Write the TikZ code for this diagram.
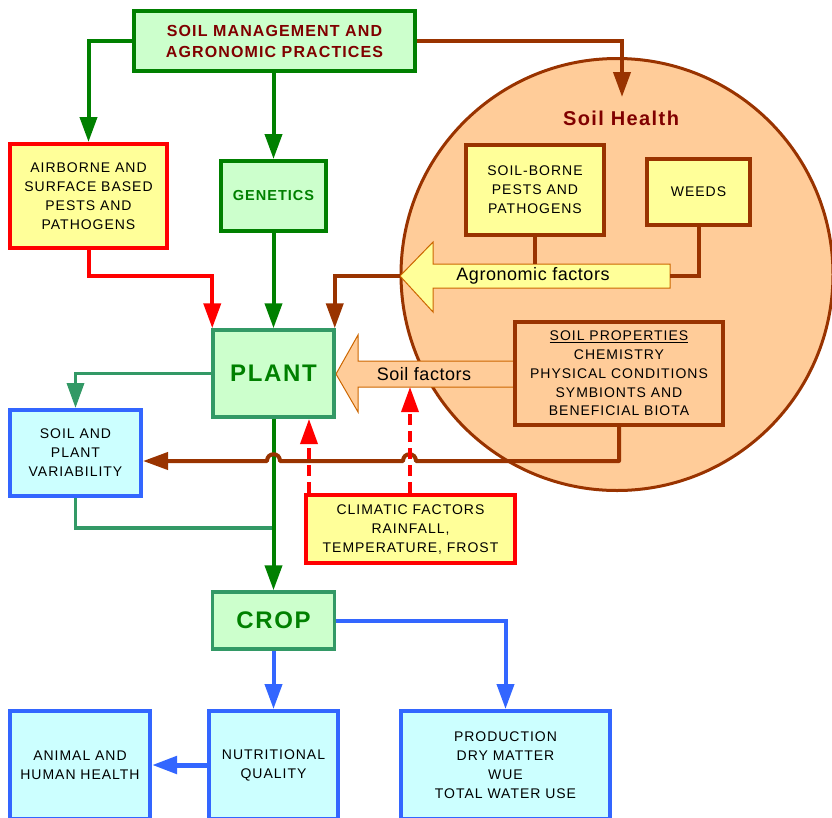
\documentclass[tikz,border=0pt]{standalone}
\usepackage{fontspec}
\setmainfont{Liberation Sans}
\newfontfamily\spfont[LetterSpace=7]{Liberation Sans}
\newfontfamily\lspfont[LetterSpace=3]{Liberation Sans}
\usetikzlibrary{arrows.meta}
\definecolor{cgreen}{HTML}{008000}
\definecolor{cltgreen}{HTML}{CCFFCC}
\definecolor{cdkred}{HTML}{800000}
\definecolor{cred}{HTML}{FF0000}
\definecolor{cyel}{HTML}{FFFF99}
\definecolor{cbrown}{HTML}{993300}
\definecolor{cpeach}{HTML}{FFCC99}
\definecolor{cteal}{HTML}{339966}
\definecolor{ccyan}{HTML}{CCFFFF}
\definecolor{cblue}{HTML}{3366FF}
\definecolor{corange}{HTML}{CC6600}
\newcommand{\txtbox}{\spfont\fontsize{14}{19}\selectfont}
\newcommand{\txttitle}{\spfont\bfseries\fontsize{16}{21}\selectfont}
\newcommand{\txtbig}{\spfont\bfseries\fontsize{24}{28}\selectfont}
\begin{document}
\begin{tikzpicture}[x=1pt,y=-1pt,
  box/.style={draw, line width=4pt, inner sep=0pt, align=center, font=\txtbox, text=black},
  greenbox/.style={box, draw=cgreen, fill=cltgreen},
  tealbox/.style={box, draw=cteal, fill=cltgreen, line width=3.5pt},
  yelred/.style={box, draw=cred, fill=cyel},
  yelbrown/.style={box, draw=cbrown, fill=cyel},
  cyanbox/.style={box, draw=cblue, fill=ccyan},
  tipend/.style={-{Triangle[length=25pt,width=17pt]}},
  conn/.style={line width=4pt},
]
\useasboundingbox (0,0) rectangle (832,817);
\clip (0,0) rectangle (832,817);

% soil health circle
\node[circle, draw=cbrown, fill=cpeach, line width=3pt, minimum size=432pt, inner sep=0pt] (health) at (617,274.5) {};
\node[font={\spfont\bfseries\fontsize{20}{24}\selectfont}, text=cdkred] (healthlbl) at (621,118) {Soil Health};

% fat arrows
\coordinate (agtip) at (400,276);
\coordinate (sftip) at (336,374);
\draw[draw=corange, fill=cyel, line width=1pt] (agtip) -- (433,242) -- (433,264) -- (670,264) -- (670,288) -- (433,288) -- (433,312) -- cycle;
\draw[draw=corange, fill=cpeach, line width=1pt] (sftip) -- (358,335) -- (358,361) -- (515,361) -- (515,387) -- (358,387) -- (358,412) -- cycle;
\node[font={\lspfont\fontsize{18}{22}\selectfont}] (aglbl) at (533,276) {Agronomic factors};
\node[font={\lspfont\fontsize{18}{22}\selectfont}] (sflbl) at (424,374) {Soil factors};

% boxes
\node[greenbox, minimum width=281pt, minimum height=60pt, font=\txttitle, text=cdkred] (top) at (274.5,41) {SOIL MANAGEMENT AND\\AGRONOMIC PRACTICES};
\node[yelred, minimum width=157pt, minimum height=104pt] (air) at (88.5,196) {AIRBORNE AND\\SURFACE BASED\\PESTS AND\\PATHOGENS};
\node[greenbox, minimum width=105pt, minimum height=70pt, font={\spfont\bfseries\fontsize{14.5}{18}\selectfont}, text=cgreen] (gen) at (273.5,196) {GENETICS};
\node[yelbrown, minimum width=138pt, minimum height=90pt] (sb) at (535,190) {SOIL-BORNE\\PESTS AND\\PATHOGENS};
\node[yelbrown, minimum width=103pt, minimum height=66pt] (weeds) at (698.5,192) {WEEDS};
\node[box, draw=cbrown, fill=cpeach, minimum width=208pt, minimum height=103pt, font={\spfont\fontsize{14}{18.7}\selectfont}] (sp) at (619,373.5) {\underline{SOIL PROPERTIES}\\CHEMISTRY\\PHYSICAL CONDITIONS\\SYMBIONTS AND\\BENEFICIAL BIOTA};
\node[tealbox, minimum width=121pt, minimum height=87pt, font=\txtbig, text=cgreen] (plant) at (273.5,373.5) {PLANT};
\node[cyanbox, minimum width=131pt, minimum height=86pt] (var) at (75.5,453) {SOIL AND\\PLANT\\VARIABILITY};
\node[yelred, minimum width=209pt, minimum height=68pt] (clim) at (410.5,529) {CLIMATIC FACTORS\\RAINFALL,\\TEMPERATURE, FROST};
\node[tealbox, minimum width=122pt, minimum height=57pt, font=\txtbig, text=cgreen] (crop) at (273.5,620.5) {CROP};
\node[cyanbox, minimum width=129pt, minimum height=108pt] (nut) at (273.5,765) {NUTRITIONAL\\QUALITY};
\node[cyanbox, minimum width=140pt, minimum height=108pt] (anim) at (80,765) {ANIMAL AND\\HUMAN HEALTH};
\node[cyanbox, minimum width=209pt, minimum height=108pt] (prod) at (505.5,765) {PRODUCTION\\DRY MATTER\\WUE\\TOTAL WATER USE};

% connectors from top box
\draw[conn, cgreen, tipend] (top.west) -| (air.north);
\draw[conn, cgreen, tipend] (top.south -| gen.north) -- (gen.north);
\coordinate (hin) at (622,97);
\draw[conn, cbrown, tipend] (top.east) -| (hin);

% into plant
\draw[conn, cred, tipend] (air.south) -- ++(0,26) -| ([xshift=1pt]plant.north west);
\draw[conn, cgreen, tipend] (gen.south) -- (plant.north);
\draw[conn, cbrown, tipend] (agtip) -| ([xshift=-1pt]plant.north east);

% inside health
\coordinate (agtop) at (535,264);
\coordinate (agend) at (670,276);
\draw[conn, cbrown] (sb.south) -- (agtop);
\draw[conn, cbrown] (weeds.south) |- (agend);

% variability loop
\draw[line width=3.5pt, cteal, tipend] (plant.west) -| (var.north);
\coordinate (join) at (273.5,528);
\draw[line width=3.5pt, cteal] (var.south) |- (join);

% plant to crop
\draw[conn, cgreen, tipend] (plant.south) -- (crop.north);

% brown feedback line with jumps
\coordinate (fb) at (619,461);
\draw[conn, cbrown, tipend, line join=round] (sp.south) -- (fb) -- (416,461)
  .. controls (416,452) and (403,452) .. (403,461) -- (280,461)
  .. controls (280,452) and (267,452) .. (267,461) -- (var.east |- fb);

% climatic dashed arrows
\coordinate (d1) at (309,419);
\coordinate (d2) at (410,387);
\draw[line width=3.5pt, cred, dash pattern=on 11pt off 6pt, tipend] (clim.north -| d1) -- (d1);
\draw[line width=3.5pt, cred, dash pattern=on 11pt off 6pt, tipend] (clim.north -| d2) -- (d2);

% crop outputs
\draw[conn, cblue, tipend] (crop.south) -- (nut.north);
\draw[conn, cblue, tipend] (crop.east) -| (prod.north);
\draw[line width=5pt, cblue, tipend] (nut.west) -- (anim.east);
\end{tikzpicture}
\end{document}
